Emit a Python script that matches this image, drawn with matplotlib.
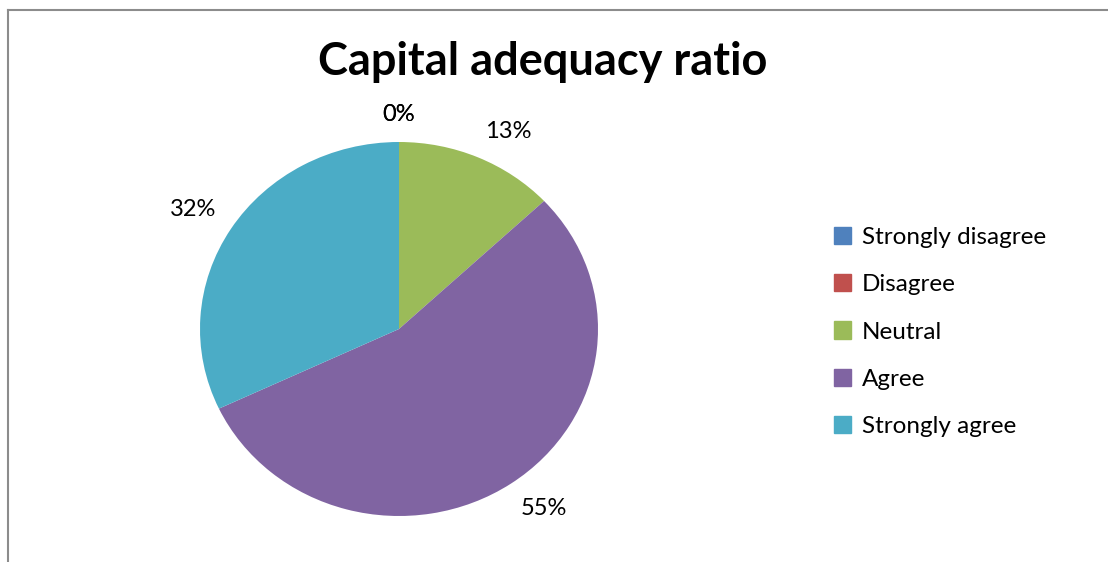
import numpy as np
import matplotlib.pyplot as plt
from matplotlib.patches import Rectangle
from matplotlib.lines import Line2D

# data
labels = ["Strongly disagree", "Disagree", "Neutral", "Agree", "Strongly agree"]
values = [0, 0, 13, 55, 32]
colors = ["#4F81BD", "#C0504D", "#9BBB59", "#8064A2", "#4BACC6"]
title = "Capital adequacy ratio"

plt.rcParams['font.family'] = ['Lato', 'DejaVu Sans']

W, H = 1108, 562
fig = plt.figure(figsize=(W / 100, H / 100), dpi=100)

# chart frame: only top and left edges are visible in the crop
fx, fy = 7.5 / W, 1 - 9.5 / H
fig.lines.append(Line2D([fx, 1.0], [fy, fy], transform=fig.transFigure,
                        color="#8c8c8c", linewidth=1.5))
fig.lines.append(Line2D([fx, fx], [0.0, fy], transform=fig.transFigure,
                        color="#8c8c8c", linewidth=1.5))

ax = fig.add_axes([200 / W, 46 / H, 398 / W, 374 / H])
wedges, texts, autotexts = ax.pie(values, colors=colors, startangle=90, counterclock=False,
                                  autopct='%1.0f%%',
                                  textprops={'fontsize': 17, 'color': 'black'})
ax.set_aspect('auto')
ax.set_xlim(-1, 1)
ax.set_ylim(-1, 1)

# outside labels, anchored like Excel's "best fit" (text box next to the rim)
for w, t in zip(wedges, autotexts):
    ang = np.deg2rad((w.theta1 + w.theta2) / 2)
    c, s = np.cos(ang), np.sin(ang)
    t.set_position((1.09 * c, 1.09 * s))
    t.set_ha('left' if c > 0.1 else ('right' if c < -0.1 else 'center'))
    t.set_va('bottom' if s > 0 else 'top')

fig.text(543 / W, 1 - 62 / H, title, ha='center', va='center',
         fontsize=32.5, fontweight='bold')

handles = [Rectangle((0, 0), 1, 1, color=c) for c in colors]
fig.legend(handles, labels, loc='center left', bbox_to_anchor=(812 / W, 1 - 332 / H),
           frameon=False, fontsize=17.5, handlelength=0.7, handleheight=0.7,
           handletextpad=0.45, labelspacing=1.08)

fig.savefig('out.png', dpi=100)
